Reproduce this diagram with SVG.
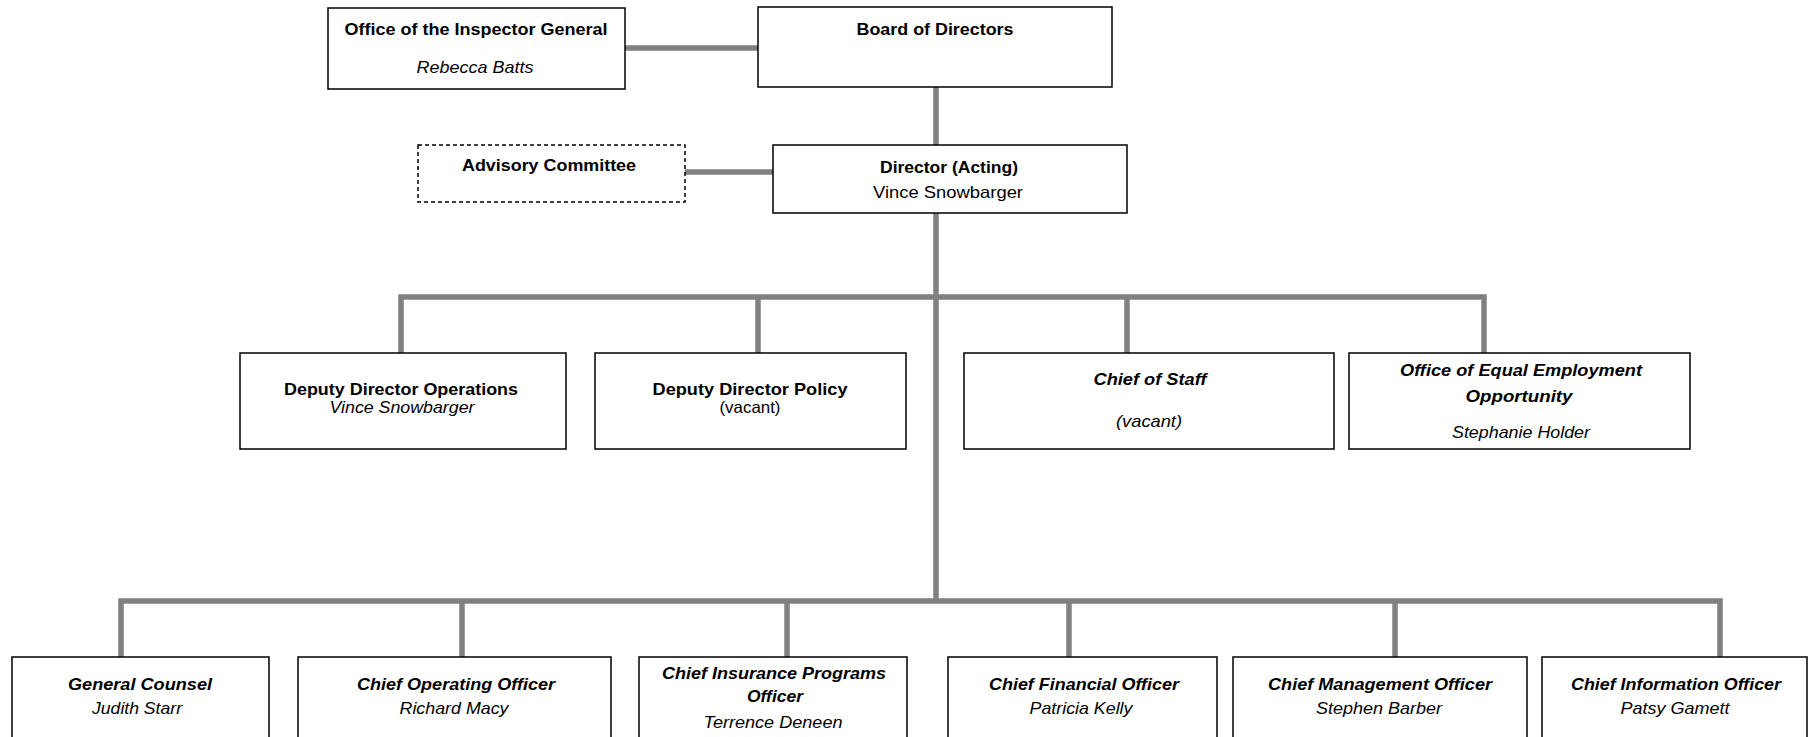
<svg xmlns="http://www.w3.org/2000/svg" width="1811" height="737" viewBox="0 0 1811 737">
<style>
.box{fill:#fff;stroke:#000;stroke-width:1.5}
.dash{stroke-dasharray:4 3}
.c{fill:none;stroke:#808080;stroke-width:5.5}
text{font-family:"Liberation Sans Narrow","Liberation Sans",Arial,sans-serif;font-size:16.5px;fill:#000;text-anchor:middle}
.b{font-weight:bold}
.i{font-style:italic}
</style>
<rect width="1811" height="737" fill="#fff"/>
<g id="connectors">
<line class="c" x1="625" y1="48" x2="758" y2="48"/>
<line class="c" x1="936" y1="87" x2="936" y2="145"/>
<line class="c" x1="685" y1="172" x2="773" y2="172"/>
<line class="c" x1="936" y1="213" x2="936" y2="601"/>
<polyline class="c" points="401,353 401,297 1484,297 1484,353"/>
<line class="c" x1="758" y1="297" x2="758" y2="353"/>
<line class="c" x1="1127" y1="297" x2="1127" y2="353"/>
<polyline class="c" points="121,657 121,601 1720,601 1720,657"/>
<line class="c" x1="462" y1="601" x2="462" y2="657"/>
<line class="c" x1="787" y1="601" x2="787" y2="657"/>
<line class="c" x1="1069" y1="601" x2="1069" y2="657"/>
<line class="c" x1="1395" y1="601" x2="1395" y2="657"/>
</g>
<g id="oig">
<rect class="box" x="328" y="8" width="297" height="81"/>
<text class="b" x="476" y="35" textLength="263" lengthAdjust="spacingAndGlyphs">Office of the Inspector General</text>
<text class="i" x="475" y="73" textLength="117" lengthAdjust="spacingAndGlyphs">Rebecca Batts</text>
</g>
<g id="board">
<rect class="box" x="758" y="7" width="354" height="80"/>
<text class="b" x="935" y="35" textLength="157" lengthAdjust="spacingAndGlyphs">Board of Directors</text>
</g>
<g id="advisory">
<rect class="box dash" x="418" y="145" width="267" height="57"/>
<text class="b" x="549" y="171" textLength="174" lengthAdjust="spacingAndGlyphs">Advisory Committee</text>
</g>
<g id="director">
<rect class="box" x="773" y="145" width="354" height="68"/>
<text class="b" x="949" y="173" textLength="138" lengthAdjust="spacingAndGlyphs">Director (Acting)</text>
<text x="948" y="198" textLength="150" lengthAdjust="spacingAndGlyphs">Vince Snowbarger</text>
</g>
<g id="ddo">
<rect class="box" x="240" y="353" width="326" height="96"/>
<text class="b" x="401" y="395" textLength="234" lengthAdjust="spacingAndGlyphs">Deputy Director Operations</text>
<text class="i" x="402" y="413" textLength="145" lengthAdjust="spacingAndGlyphs">Vince Snowbarger</text>
</g>
<g id="ddp">
<rect class="box" x="595" y="353" width="311" height="96"/>
<text class="b" x="750" y="395" textLength="195" lengthAdjust="spacingAndGlyphs">Deputy Director Policy</text>
<text x="750" y="413" textLength="61" lengthAdjust="spacingAndGlyphs">(vacant)</text>
</g>
<g id="cos">
<rect class="box" x="964" y="353" width="370" height="96"/>
<text class="b i" x="1150" y="385" textLength="113" lengthAdjust="spacingAndGlyphs">Chief of Staff</text>
<text class="i" x="1149" y="427" textLength="66" lengthAdjust="spacingAndGlyphs">(vacant)</text>
</g>
<g id="oeeo">
<rect class="box" x="1349" y="353" width="341" height="96"/>
<text class="b i" x="1521" y="376" textLength="242" lengthAdjust="spacingAndGlyphs">Office of Equal Employment</text>
<text class="b i" x="1519" y="402" textLength="107" lengthAdjust="spacingAndGlyphs">Opportunity</text>
<text class="i" x="1521" y="438" textLength="138" lengthAdjust="spacingAndGlyphs">Stephanie Holder</text>
</g>
<g id="gc">
<rect class="box" x="12" y="657" width="257" height="100"/>
<text class="b i" x="140" y="690" textLength="144" lengthAdjust="spacingAndGlyphs">General Counsel</text>
<text class="i" x="137" y="714" textLength="90" lengthAdjust="spacingAndGlyphs">Judith Starr</text>
</g>
<g id="coo">
<rect class="box" x="298" y="657" width="313" height="100"/>
<text class="b i" x="456" y="690" textLength="198" lengthAdjust="spacingAndGlyphs">Chief Operating Officer</text>
<text class="i" x="454" y="714" textLength="109" lengthAdjust="spacingAndGlyphs">Richard Macy</text>
</g>
<g id="cipo">
<rect class="box" x="639" y="657" width="268" height="100"/>
<text class="b i" x="774" y="679" textLength="224" lengthAdjust="spacingAndGlyphs">Chief Insurance Programs</text>
<text class="b i" x="775" y="702" textLength="56" lengthAdjust="spacingAndGlyphs">Officer</text>
<text class="i" x="773" y="728" textLength="139" lengthAdjust="spacingAndGlyphs">Terrence Deneen</text>
</g>
<g id="cfo">
<rect class="box" x="948" y="657" width="269" height="100"/>
<text class="b i" x="1084" y="690" textLength="190" lengthAdjust="spacingAndGlyphs">Chief Financial Officer</text>
<text class="i" x="1081" y="714" textLength="103" lengthAdjust="spacingAndGlyphs">Patricia Kelly</text>
</g>
<g id="cmo">
<rect class="box" x="1233" y="657" width="294" height="100"/>
<text class="b i" x="1380" y="690" textLength="224" lengthAdjust="spacingAndGlyphs">Chief Management Officer</text>
<text class="i" x="1379" y="714" textLength="126" lengthAdjust="spacingAndGlyphs">Stephen Barber</text>
</g>
<g id="cio">
<rect class="box" x="1542" y="657" width="265" height="100"/>
<text class="b i" x="1676" y="690" textLength="210" lengthAdjust="spacingAndGlyphs">Chief Information Officer</text>
<text class="i" x="1675" y="714" textLength="109" lengthAdjust="spacingAndGlyphs">Patsy Gamett</text>
</g>
</svg>
